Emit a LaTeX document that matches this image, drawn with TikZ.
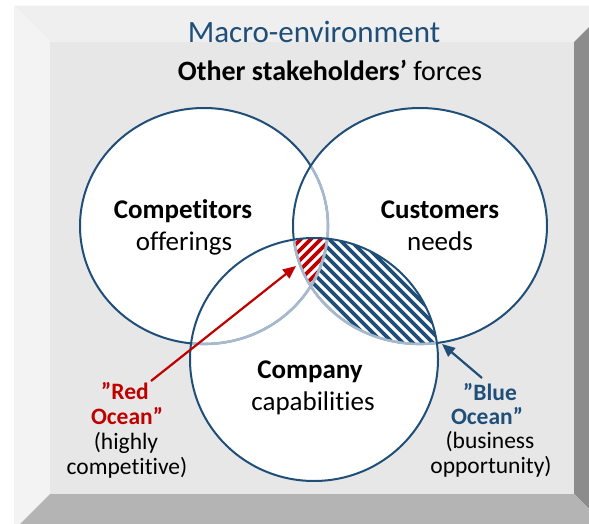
\documentclass[tikz,border=0pt]{standalone}
\usepackage{fontspec}
\setmainfont{Carlito}[Ligatures=NoCommon]
\usetikzlibrary{arrows.meta}
\definecolor{dblue}{HTML}{1F4E79}
\definecolor{lblue}{HTML}{A7B9CD}
\definecolor{dred}{HTML}{C00000}
\definecolor{facegray}{HTML}{E7E7E7}
\definecolor{bevtop}{HTML}{EFEFEF}
\definecolor{bevleft}{HTML}{F3F3F3}
\definecolor{bevright}{HTML}{8C8C8C}
\definecolor{bevbottom}{HTML}{B4B4B4}
\newcommand\pathLeft{(204,226) ellipse [x radius=124pt, y radius=118pt]}
\newcommand\pathRight{(420,226) ellipse [x radius=127pt, y radius=118pt]}
\newcommand\pathBottom{(314,359.5) ellipse [x radius=124pt, y radius=121.5pt]}
\tikzset{
  ring/.style={line width=2pt},
  lbl/.style={inner sep=0pt, anchor=base},
  title/.style={lbl, font=\fontsize{31}{36}\selectfont, text=dblue},
  big/.style={lbl, font=\fontsize{28}{33}\selectfont},
  circtxt/.style={lbl, font=\fontsize{27}{31}\selectfont},
  small/.style={lbl, font=\fontsize{23.5}{25}\selectfont},
  stripe/.style={line width=3.6pt},
  pointer/.style={line width=2.2pt, -{Triangle[length=13pt,width=11pt]}}
}
\begin{document}
\begin{tikzpicture}[x=1pt,y=-1pt]
\useasboundingbox (0,0) rectangle (589,524);
\clip (0,0) rectangle (589,524);
\fill[white] (0,0) rectangle (589,524);
% bevelled frame
\fill[bevtop] (14,6) -- (610,6) -- (574,42) -- (50,42) -- cycle;
\fill[bevleft] (14,6) -- (50,42) -- (50,494) -- (14,530) -- cycle;
\fill[bevright] (610,6) -- (574,42) -- (574,494) -- (610,530) -- cycle;
\fill[bevbottom] (14,530) -- (50,494) -- (574,494) -- (610,530) -- cycle;
\fill[facegray] (50,42) rectangle (574,494);
% white discs
\fill[white] \pathLeft;
\fill[white] \pathRight;
\fill[white] \pathBottom;
% hatching
\begin{scope}
  \clip \pathRight;
  \clip \pathBottom;
  \foreach \c in {-400,-390,...,400}
    \draw[stripe, dblue] (\c,0) -- (\c+600,600);
  \clip \pathLeft;
  \fill[white] (0,0) rectangle (589,524);
  \foreach \c in {300,310,...,900}
    \draw[stripe, dred] (\c,0) -- (\c-600,600);
\end{scope}
% outlines
\draw[ring, dblue] \pathLeft;
\begin{scope}
  \clip \pathRight;
  \draw[ring, lblue, line width=2.6pt] \pathLeft;
\end{scope}
\begin{scope}
  \clip \pathBottom;
  \draw[ring, lblue, line width=2.6pt] \pathLeft;
\end{scope}
\draw[ring, dblue] \pathRight;
\begin{scope}
  \clip \pathBottom;
  \draw[ring, lblue, line width=2.6pt] \pathRight;
\end{scope}
\draw[ring, dblue] \pathBottom;
% titles
\node[title] (macro) at (314,43) {Macro-environment};
\node[big] (other) at (330,81) {\textbf{Other stakeholders’} forces};
% circle texts
\node[circtxt] (comp1) at (183,218) {\textbf{Competitors}};
\node[circtxt] (comp2) at (184,250) {offerings};
\node[circtxt] (cust1) at (440,218) {\textbf{Customers}};
\node[circtxt] (cust2) at (440,250) {needs};
\node[circtxt] (co1) at (310,378) {\textbf{Company}};
\node[circtxt] (co2) at (313,410) {capabilities};
% ocean labels
\node[small, text=dred] (red1) at (125,399) {\textbf{”Red}};
\node[small, text=dred] (red2) at (127,424) {\textbf{Ocean”}};
\node[small] (red3) at (126,449) {(highly};
\node[small] (red4) at (127,474) {competitive)};
\node[small, text=dblue] (blue1) at (490,400) {\textbf{”Blue}};
\node[small, text=dblue] (blue2) at (487,424) {\textbf{Ocean”}};
\node[small] (blue3) at (490,448.5) {(business};
\node[small] (blue4) at (491,473) {opportunity)};
% arrows
\coordinate (redstart) at (151,381);
\coordinate (redtip) at (296,266);
\coordinate (bluestart) at (482,378);
\coordinate (bluetip) at (442,344);
\draw[pointer, dred] (redstart) -- (redtip);
\draw[pointer, dblue] (bluestart) -- (bluetip);
\end{tikzpicture}
\end{document}
